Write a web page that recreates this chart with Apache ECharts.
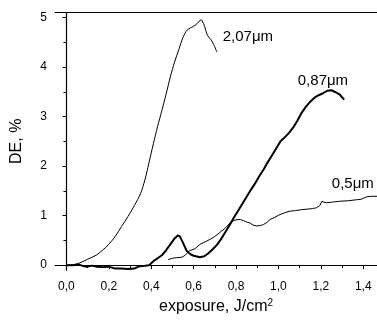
<!DOCTYPE html>
<html><head><meta charset="utf-8">
<script src="https://cdn.jsdelivr.net/npm/echarts@6/dist/echarts.min.js"></script>
<style>html,body{margin:0;padding:0;background:#fff}#c{width:377px;height:320px}</style>
</head><body><div id="c"></div>
<script>
// 2.07 µm series
const x207 = [0, 0.03, 0.06, 0.1, 0.14, 0.17, 0.2, 0.23, 0.26, 0.29, 0.32, 0.35, 0.37, 0.39, 0.41, 0.43, 0.45, 0.47, 0.49, 0.51, 0.53, 0.55, 0.57, 0.59, 0.61, 0.625, 0.635, 0.65, 0.665, 0.68, 0.695, 0.71];
const y207 = [0, 0.01, 0.04, 0.12, 0.2, 0.3, 0.42, 0.58, 0.78, 0.98, 1.2, 1.45, 1.72, 2.08, 2.45, 2.8, 3.12, 3.45, 3.8, 4.1, 4.35, 4.6, 4.75, 4.8, 4.85, 4.92, 4.95, 4.84, 4.64, 4.56, 4.45, 4.3];
// 0.87 µm series
const x087 = [0, 0.03, 0.06, 0.08, 0.1, 0.12, 0.14, 0.17, 0.2, 0.23, 0.26, 0.29, 0.32, 0.345, 0.37, 0.39, 0.41, 0.43, 0.45, 0.47, 0.49, 0.51, 0.525, 0.535, 0.55, 0.567, 0.585, 0.6, 0.63, 0.65, 0.67, 0.69, 0.71, 0.73, 0.75, 0.77, 0.79, 0.81, 0.83, 0.85, 0.87, 0.89, 0.91, 0.93, 0.95, 0.97, 0.99, 1.01, 1.03, 1.05, 1.07, 1.09, 1.11, 1.13, 1.15, 1.17, 1.19, 1.21, 1.23, 1.25, 1.27, 1.29, 1.31];
const y087 = [0, 0, 0.01, -0.02, -0.03, -0.01, -0.03, -0.04, -0.03, -0.07, -0.07, -0.08, -0.07, -0.02, -0.01, 0, 0.08, 0.14, 0.2, 0.3, 0.42, 0.54, 0.6, 0.58, 0.45, 0.29, 0.22, 0.19, 0.16, 0.18, 0.24, 0.32, 0.41, 0.53, 0.67, 0.81, 0.96, 1.1, 1.24, 1.38, 1.52, 1.65, 1.8, 1.93, 2.08, 2.22, 2.36, 2.5, 2.58, 2.67, 2.78, 2.92, 3.08, 3.2, 3.3, 3.38, 3.43, 3.47, 3.52, 3.53, 3.49, 3.44, 3.34];
// 0.5 µm series
const x05 = [0.48, 0.5, 0.52, 0.545, 0.56, 0.58, 0.606, 0.63, 0.65, 0.677, 0.7, 0.724, 0.75, 0.771, 0.79, 0.805, 0.82, 0.835, 0.85, 0.866, 0.88, 0.897, 0.915, 0.93, 0.945, 0.96, 0.98, 1.007, 1.03, 1.054, 1.08, 1.11, 1.133, 1.16, 1.18, 1.195, 1.205, 1.215, 1.227, 1.25, 1.29, 1.33, 1.369, 1.39, 1.416, 1.44, 1.465];
const y05 = [0.11, 0.14, 0.15, 0.16, 0.2, 0.29, 0.33, 0.42, 0.46, 0.52, 0.58, 0.66, 0.75, 0.85, 0.9, 0.92, 0.92, 0.9, 0.87, 0.85, 0.81, 0.79, 0.8, 0.82, 0.86, 0.92, 0.96, 1.02, 1.06, 1.09, 1.1, 1.12, 1.13, 1.14, 1.16, 1.2, 1.29, 1.27, 1.26, 1.27, 1.29, 1.3, 1.32, 1.33, 1.38, 1.39, 1.39];

const xTicks = [0, 0.2, 0.4, 0.6, 0.8, 1.0, 1.2, 1.4];
const xMinor = [0.1, 0.3, 0.5, 0.7, 0.9, 1.1, 1.3];
const yTicks = [0, 1, 2, 3, 4, 5];
const yMinor = [0.5, 1.5, 2.5, 3.5, 4.5];

const seriesNames = ['2,07μm', '0,87μm', '0,5μm'];
const labelAt = [[0.856, 4.61], [1.21, 3.71], [1.351, 1.64]];

const zip = (a, b) => a.map((v, i) => [v, b[i]]);
const FONT = '"Liberation Sans", Arial, sans-serif';
const XMIN = -0.054, XMAX = 1.465, YMIN = -0.1, YMAX = 5.1;

const baseX = {type: 'value', min: XMIN, max: XMAX, splitLine: {show: false}};
const baseY = {type: 'value', min: YMIN, max: YMAX, splitLine: {show: false}};

const mk = (i) => ({
  symbol: 'circle', symbolSize: 0, silent: true,
  label: {show: true, position: 'inside', formatter: seriesNames[i], color: '#000', fontSize: 15, fontFamily: FONT},
  data: [{coord: labelAt[i]}]
});

const chart = echarts.init(document.getElementById('c'), null, {renderer: 'canvas'});
chart.setOption({
  animation: false,
  backgroundColor: '#fff',
  grid: {left: 55, right: 0, top: 12.5, bottom: 47},
  xAxis: [
    Object.assign({}, baseX, {
      position: 'bottom',
      axisLine: {show: true, lineStyle: {color: '#000', width: 1.2}},
      axisTick: {show: true, inside: false, length: 4, customValues: xTicks, lineStyle: {color: '#000'}},
      axisLabel: {show: true, customValues: xTicks, margin: 11, color: '#000', fontSize: 12, fontFamily: FONT,
        formatter: v => v.toFixed(1).replace('.', ',')},
      name: '{a|exposure, J/cm}{b|2}', nameLocation: 'middle', nameGap: 27,
      nameTextStyle: {color: '#000', fontFamily: FONT,
        rich: {a: {fontSize: 16, lineHeight: 18, fontFamily: FONT, color: '#000'},
               b: {fontSize: 10, lineHeight: 18, verticalAlign: 'top', fontFamily: FONT, color: '#000'}}}
    }),
    Object.assign({}, baseX, {
      position: 'bottom',
      axisLine: {show: false},
      axisTick: {show: true, inside: false, length: 3, customValues: xMinor, lineStyle: {color: '#000'}},
      axisLabel: {show: false}
    }),
    Object.assign({}, baseX, {
      position: 'top',
      axisLine: {show: true, lineStyle: {color: '#000', width: 1.2}},
      axisTick: {show: false}, axisLabel: {show: false}
    })
  ],
  yAxis: [
    Object.assign({}, baseY, {
      position: 'left',
      axisLine: {show: true, lineStyle: {color: '#000', width: 1.2}},
      axisTick: {show: true, inside: false, length: 4, customValues: yTicks, lineStyle: {color: '#000'}},
      axisLabel: {show: true, customValues: yTicks, margin: 8, color: '#000', fontSize: 12, fontFamily: FONT},
      name: 'DE, %', nameLocation: 'middle', nameGap: 30, nameRotate: 90,
      nameTextStyle: {color: '#000', fontSize: 16, fontFamily: FONT}
    }),
    Object.assign({}, baseY, {
      position: 'left',
      axisLine: {show: false},
      axisTick: {show: true, inside: false, length: 3, customValues: yMinor, lineStyle: {color: '#000'}},
      axisLabel: {show: false}
    })
  ],
  series: [
    {name: seriesNames[0], type: 'line', data: zip(x207, y207), showSymbol: false, smooth: 0.3,
      lineStyle: {color: '#000', width: 1}, markPoint: mk(0), xAxisIndex: 0, yAxisIndex: 0},
    {name: seriesNames[1], type: 'line', data: zip(x087, y087), showSymbol: false,
      lineStyle: {color: '#000', width: 2}, markPoint: mk(1), xAxisIndex: 0, yAxisIndex: 0},
    {name: seriesNames[2], type: 'line', data: zip(x05, y05), showSymbol: false,
      lineStyle: {color: '#000', width: 1}, markPoint: mk(2), xAxisIndex: 0, yAxisIndex: 0}
  ]
});
</script></body></html>
